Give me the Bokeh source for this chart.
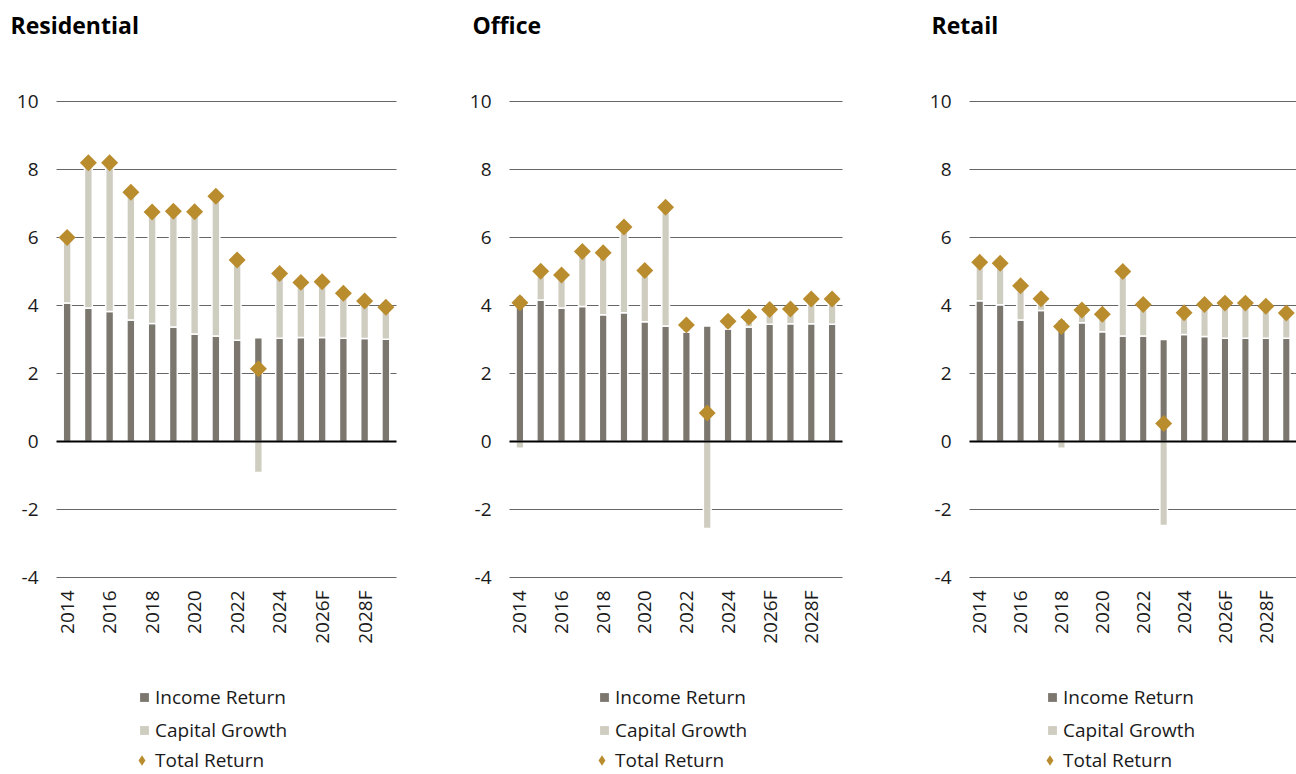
import numpy as np
from math import pi
from bokeh.plotting import figure
from bokeh.layouts import row
from bokeh.models import (ColumnDataSource, Legend, LegendItem, Range1d, Label)
from bokeh.core.properties import value
from bokeh.embed import file_html
from bokeh.resources import INLINE

# ---------------- data ----------------
years = list(range(2014, 2030))
tick_years = [2014, 2016, 2018, 2020, 2022, 2024, 2026, 2028]
tick_labels = ["2014", "2016", "2018", "2020", "2022", "2024", "2026F", "2028F"]
y_ticks = [-4, -2, 0, 2, 4, 6, 8, 10]
series_names = ["Income Return", "Capital Growth", "Total Return"]

res_income = [4.07, 3.93, 3.82, 3.57, 3.47, 3.37, 3.16, 3.10, 2.98, 3.05, 3.04, 3.06, 3.06, 3.04, 3.03, 3.01]
res_capital = [1.93, 4.27, 4.38, 3.76, 3.28, 3.40, 3.60, 4.11, 2.36, -0.91, 1.90, 1.62, 1.64, 1.32, 1.10, 0.94]
res_total = [6.00, 8.20, 8.20, 7.33, 6.75, 6.77, 6.76, 7.21, 5.34, 2.14, 4.94, 4.68, 4.70, 4.36, 4.13, 3.95]

off_income = [4.28, 4.16, 3.93, 3.97, 3.73, 3.79, 3.52, 3.40, 3.22, 3.40, 3.31, 3.37, 3.45, 3.46, 3.46, 3.45]
off_capital = [-0.20, 0.85, 0.97, 1.62, 1.82, 2.52, 1.51, 3.49, 0.21, -2.56, 0.23, 0.29, 0.43, 0.44, 0.73, 0.74]
off_total = [4.08, 5.01, 4.90, 5.59, 5.55, 6.31, 5.03, 6.89, 3.43, 0.84, 3.54, 3.66, 3.88, 3.90, 4.19, 4.19]

ret_income = [4.14, 4.02, 3.57, 3.85, 3.58, 3.49, 3.23, 3.10, 3.10, 3.00, 3.15, 3.09, 3.04, 3.04, 3.04, 3.04]
ret_capital = [1.13, 1.22, 1.01, 0.35, -0.20, 0.38, 0.51, 1.90, 0.93, -2.47, 0.64, 0.94, 1.03, 1.03, 0.94, 0.74]
ret_total = [5.27, 5.24, 4.58, 4.20, 3.38, 3.87, 3.74, 5.00, 4.03, 0.53, 3.79, 4.03, 4.07, 4.07, 3.98, 3.78]

# ---------------- style / layout ----------------
INCOME_C = "#7b776f"
CAPITAL_C = "#cfccc0"
TOTAL_C = "#b98c2e"
GRID_C = "#666666"
FONT = "Open Sans"
TEXT_C = "#1a1a1a"
H = 774            # figure height (px)
PLOT_TOP = 101     # px of the y = 10 line
PLOT_BOT = 577     # px of the y = -4 line
Y_MAX, Y_MIN = 10, -4


def legend_box(items, x, y, glyph_w, glyph_h):
    return Legend(items=items, location=(x, y), orientation="vertical",
                  glyph_width=glyph_w, glyph_height=glyph_h, label_standoff=0, spacing=7,
                  padding=0, margin=0, border_line_color=None, background_fill_alpha=0,
                  inactive_fill_alpha=0, label_text_font=FONT, label_text_font_size="19px",
                  label_text_color=TEXT_C, label_height=22)


def make_panel(title, income, capital, total, border_l, frame_w, border_r, title_x, legend_x):
    width = border_l + frame_w + border_r
    n = len(years)
    ppx = frame_w / n
    ppy = (PLOT_BOT - PLOT_TOP) / (Y_MAX - Y_MIN)
    x_lo, x_hi = years[0] - 0.5, years[-1] + 0.5
    xr = Range1d(x_lo - border_l / ppx, x_hi + border_r / ppx)
    yr = Range1d(Y_MIN - (H - PLOT_BOT) / ppy, Y_MAX + PLOT_TOP / ppy)

    p = figure(width=width, height=H, x_range=xr, y_range=yr,
               x_axis_type=None, y_axis_type=None, output_backend="svg",
               toolbar_location=None, min_border=0)
    p.outline_line_color = None
    p.background_fill_color = "white"
    p.border_fill_color = "white"
    p.grid.visible = False

    inc = np.array(income)
    cap = np.array(capital)
    cap_bottom = np.where(cap >= 0, inc, cap)
    cap_top = np.where(cap >= 0, inc + cap, 0.0)
    src = ColumnDataSource(dict(year=years, income=inc, cap_bottom=cap_bottom,
                                cap_top=cap_top, total=total))

    # horizontal grid lines (value axis)
    grid_ticks = [t for t in y_ticks if t != 0]
    p.segment(x0=[x_lo] * len(grid_ticks), x1=[x_hi] * len(grid_ticks),
              y0=grid_ticks, y1=grid_ticks, line_color=GRID_C, line_width=1)

    # y tick labels
    p.text(x=[x_lo - 18 / ppx] * len(y_ticks), y=y_ticks, text=[str(t) for t in y_ticks],
           text_align="right", text_baseline="middle", text_font=value(FONT),
           text_font_size="19px", text_color=TEXT_C)

    # x tick labels (vertical)
    p.text(x=tick_years, y=[Y_MIN - 13 / ppy] * len(tick_years), text=tick_labels,
           angle=pi / 2, text_align="right", text_baseline="middle", text_font=value(FONT),
           text_font_size="19px", text_color=TEXT_C)

    p.vbar(x="year", width=0.37, bottom=0, top="income", source=src,
           fill_color=INCOME_C, line_color="white", line_width=1.5)
    p.vbar(x="year", width=0.37, bottom="cap_bottom", top="cap_top", source=src,
           fill_color=CAPITAL_C, line_color="white", line_width=1.5)

    # zero line
    p.segment(x0=[x_lo], x1=[x_hi], y0=[0], y1=[0], line_color="black", line_width=2)

    p.scatter(x="year", y="total", source=src, marker="square", angle=pi / 4,
              size=12, fill_color=TOTAL_C, line_color=None)

    # title
    p.add_layout(Label(x=title_x, y=H - 24, x_units="screen", y_units="screen", text=title,
                       text_font=FONT, text_font_size="23px", text_font_style="bold",
                       text_color="black", text_baseline="middle", text_align="left"))

    # legend proxies (hidden renderers sharing the data source)
    l1 = p.scatter(x="year", y="income", source=src, marker="square",
                   fill_color=INCOME_C, line_color=None, visible=False)
    l2 = p.scatter(x="year", y="income", source=src, marker="square",
                   fill_color=CAPITAL_C, line_color=None, visible=False)
    l3 = p.scatter(x="year", y="total", source=src, marker="diamond",
                   fill_color=TOTAL_C, line_color=None, visible=False)
    p.add_layout(legend_box([LegendItem(label=series_names[0], renderers=[l1]),
                             LegendItem(label=series_names[1], renderers=[l2])],
                            legend_x, H - 684 - 59, 22, 22))
    p.add_layout(legend_box([LegendItem(label=series_names[2], renderers=[l3])],
                            legend_x - 5, 1, 27, 26))
    return p


p1 = make_panel("Residential", res_income, res_capital, res_total, 56, 340, 56, 10, 133)
p2 = make_panel("Office", off_income, off_capital, off_total, 57, 333, 71, 20, 141)
p3 = make_panel("Retail", ret_income, ret_capital, ret_total, 56, 327, 0, 18, 128)

layout = row(p1, p2, p3)
open("out.html", "w").write(file_html(layout, INLINE))
